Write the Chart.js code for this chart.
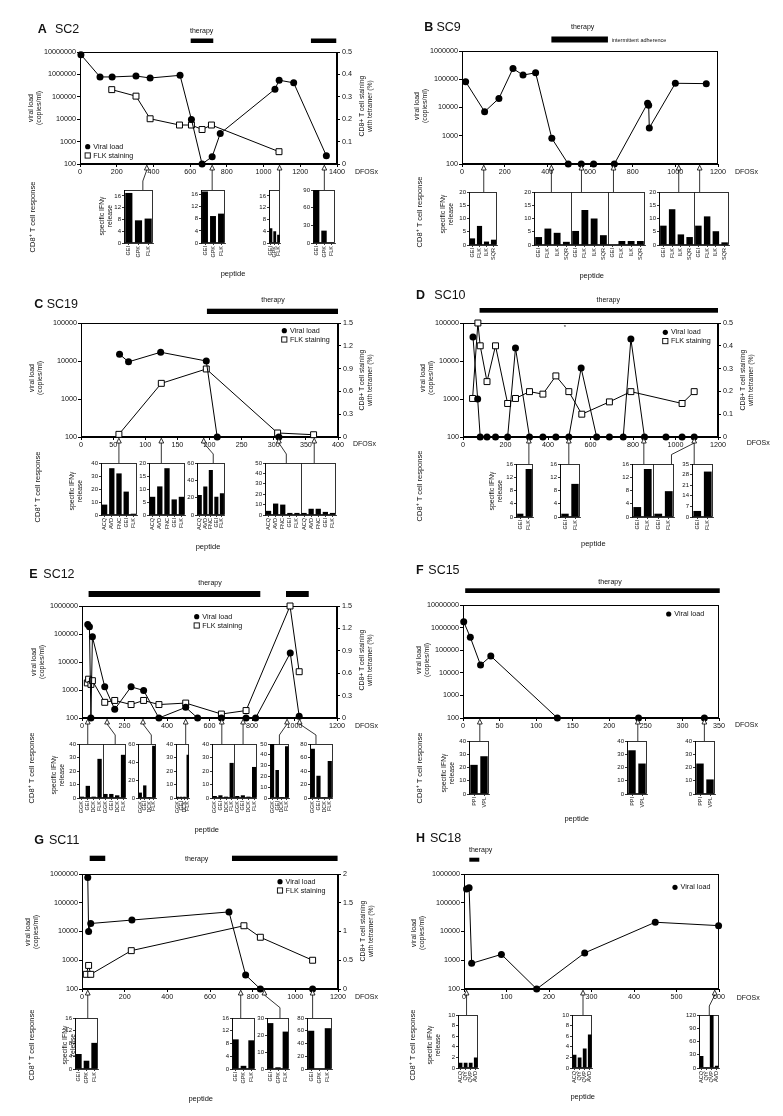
<!DOCTYPE html>
<html><head><meta charset="utf-8">
<script src="https://cdn.jsdelivr.net/npm/chart.js@4.4.0/dist/chart.umd.min.js"></script>
<style>
html,body{margin:0;padding:0;background:#fff;}
#page{position:relative;width:783px;height:1116px;overflow:hidden;background:#fff;font-family:"Liberation Sans",Arial,Helvetica,sans-serif;color:#111;}
#page canvas{position:absolute;}
.t{position:absolute;white-space:nowrap;line-height:1.12;filter:grayscale(1);-webkit-font-smoothing:antialiased;}
.t sup{font-size:0.7em;line-height:0;vertical-align:0.45em;}
</style></head><body><div id="page"></div>
<script>
// ================= DATA =================
// ---- A  SC2
const A_vlDays  = [5,109,175,305,382,545,607,665,720,764,1062,1085,1164,1342];
const A_vl      = [7.6e6,7.7e5,7.7e5,8.5e5,6.9e5,9.1e5,9.7e3,100,213,2.3e3,2.2e5,5.5e5,4.2e5,235];
const A_flkDays = [173,305,382,542,607,665,716,1084];
const A_flk     = [0.332,0.303,0.202,0.174,0.174,0.154,0.174,0.055];
const A_therapy = [[603,726],[1258,1396]];
const A_samples = [364,720,1087,1331];
const A_peptides = ['GEI','GPK','FLK'];
const A_ifn = [[17,7.7,8.3],[17,8.9,9.7],[5,4,2.8],[90,21,0.5]];
// ---- B  SC9
const B_vlDays = [17,106,173,239,286,345,421,498,559,617,714,870,875,878,1000,1145];
const B_vl     = [8.2e4,7.1e3,2.1e4,2.4e5,1.4e5,1.7e5,810,100,100,100,100,1.4e4,1.2e4,1.9e3,7.2e4,7.0e4];
const B_therapy = [[419,684]];
const B_samples = [102,419,560,710,1016,1114];
const B_peptides = ['GEI','FLK','ILK','SQR'];
const B_ifn = [[2.5,7.2,1.3,2],[3,6.2,4.6,1.2],[5.3,13.2,10,3.7],[0,1.5,1.5,1.5],[7.3,13.5,4,3],[7.3,10.8,5.2,1]];
// ---- C  SC19
const C_vlDays  = [60,74,124,195,212,308];
const C_vl      = [1.5e4,9.5e3,1.7e4,1.0e4,100,100];
const C_flkDays = [59,125,195,306,362];
const C_flk     = [0.035,0.706,0.895,0.053,0.03];
const C_therapy = [[196,400]];
const C_samples = [59,125,191,308,363];
const C_peptides = ['ACQ','AVD','FNC','GEI','FLK'];
const C_ifn = [[8,36,32,18,1],[7,11,18,6,7],[23,33,52,21,25],[4,11,10,2,2],[2,6,6,3,2]];
// ---- D  SC10
const D_vlDays  = [47,69,81,113,153,210,247,313,376,437,498,556,629,689,754,790,854,955,1031,1088];
const D_vl      = [4.3e4,1000,100,100,100,100,2.2e4,100,100,100,100,6.5e3,100,100,100,3.8e4,100,100,100,100];
const D_flkDays = [45,70,81,113,153,210,247,313,376,437,498,559,689,790,1031,1088];
const D_flk     = [0.169,0.5,0.4,0.243,0.4,0.147,0.169,0.199,0.188,0.268,0.199,0.1,0.154,0.199,0.147,0.199];
const D_therapy = [[78,1200]];
const D_samples = [310,498,851,1088];
const D_peptides = ['GEI','FLK'];
const D_ifn = [[1,14.5],[1,10],[3,14.5],[1,7.8],[4,30]];
// ---- E  SC12
const E_vlDays  = [27,35,42,49,107,154,231,290,362,488,544,656,772,817,980,1022];
const E_vl      = [2.2e5,1.8e5,100,7.9e4,1.3e3,204,1.3e3,960,100,240,100,100,100,100,2.1e4,115];
const E_flkDays = [25,31,42,49,107,154,231,290,362,488,656,772,979,1022];
const E_flk     = [0.47,0.52,0.45,0.5,0.21,0.235,0.18,0.235,0.18,0.2,0.053,0.10,1.5,0.62];
const E_therapy = [[31,839],[960,1067]];
const E_samples = [27,118,287,488,658,758,965,1024];
const E_peptides = ['GGK','GEI','DCK','FLK'];
const E_ifn = [[1,9,1,29],[3,3,2,32],[6,14,1,58],[1,1,1,32],[1.5,2,1,26],[1.5,2,1,23],[50,26,1,48],[73,33,1,55]];
// ---- F  SC15
const F_vlDays = [1,10,24,38,129,240,330];
const F_vl     = [1.8e6,3.7e5,2.2e4,5.5e4,100,100,100];
const F_therapy = [[3,351]];
const F_samples = [23,239,330];
const F_peptides = ['PPI','VPL'];
const F_ifn = [[22,28.5],[33,23],[23,11]];
// ---- G  SC11
const G_vlDays  = [27,31,41,234,689,767,836,1081];
const G_vl      = [7.6e5,1.0e4,1.9e4,2.5e4,4.8e4,307,100,100];
const G_flkDays = [20,31,41,231,759,836,1081];
const G_flk     = [0.255,0.41,0.255,0.667,1.1,0.9,0.5];
const G_therapy = [[36,109],[703,1198]];
const G_samples = [27,744,855,1081];
const G_peptides = ['GEI','GPK','FLK'];
const G_ifn = [[4.7,2.6,8.2],[9.3,1,9],[27,1,22],[60,0.5,64]];
// ---- H  SC18
const H_vlDays = [6,12,18,88,171,284,450,599];
const H_vl     = [3.0e5,3.3e5,780,1.6e3,100,1.8e3,2.1e4,1.6e4];
const H_therapy = [[12.5,36]];
const H_samples = [6,280,590];
const H_peptides = ['ACQ','QIY','QVP','AVD'];
const H_ifn = [[1,1,1,2],[2.5,2,3.7,6.3],[27,0.5,120,5]];

const PANELS = {
  A:{name:'SC2', vlDays:A_vlDays, vl:A_vl, flkDays:A_flkDays, flk:A_flk, therapy:A_therapy, samples:A_samples, peptides:A_peptides, ifn:A_ifn},
  B:{name:'SC9', vlDays:B_vlDays, vl:B_vl, therapy:B_therapy, samples:B_samples, peptides:B_peptides, ifn:B_ifn},
  C:{name:'SC19', vlDays:C_vlDays, vl:C_vl, flkDays:C_flkDays, flk:C_flk, therapy:C_therapy, samples:C_samples, peptides:C_peptides, ifn:C_ifn},
  D:{name:'SC10', vlDays:D_vlDays, vl:D_vl, flkDays:D_flkDays, flk:D_flk, therapy:D_therapy, samples:D_samples, peptides:D_peptides, ifn:D_ifn},
  E:{name:'SC12', vlDays:E_vlDays, vl:E_vl, flkDays:E_flkDays, flk:E_flk, therapy:E_therapy, samples:E_samples, peptides:E_peptides, ifn:E_ifn},
  F:{name:'SC15', vlDays:F_vlDays, vl:F_vl, therapy:F_therapy, samples:F_samples, peptides:F_peptides, ifn:F_ifn},
  G:{name:'SC11', vlDays:G_vlDays, vl:G_vl, flkDays:G_flkDays, flk:G_flk, therapy:G_therapy, samples:G_samples, peptides:G_peptides, ifn:G_ifn},
  H:{name:'SC18', vlDays:H_vlDays, vl:H_vl, therapy:H_therapy, samples:H_samples, peptides:H_peptides, ifn:H_ifn}
};

// ================= LAYOUT =================
const LAYOUT = {
 A:{plot:[80,52,337,164], xMax:1400, xStep:200, yMax:1e7, right:{max:0.5, step:0.1},
    therapyY:[38.5,43], therapyText:[201.7,30.7], title:[37.7,55,29],
    vlLabel:[35,108], rightLabel:[366,106], dfos:[355,171.5], legend:[87.7,146.7],
    cd8:[33.3,217], ifn:[106,216], peptide:[233,274],
    insets:[
      {box:[124,190,153,243], yMax:18, step:4, sets:[0], conn:[[0,0.65]]},
      {box:[201,190,225,243], yMax:17.5, step:4, sets:[1], conn:[[1,null]]},
      {box:[269,190,282,243], yMax:18, step:4, sets:[2], conn:[[2,null]]},
      {box:[313,190,335,243], yMax:90, step:30, sets:[3], conn:[[3,null]]}]},
 B:{plot:[462,51,718,164], xMax:1200, xStep:200, yMax:1e6, right:null,
    therapyY:[36.5,42.5], therapyText:[582.7,27.3], note:['intermittent adherence',611.7,39.7],
    title:[424.3,436.5,26.7], vlLabel:[421,106], dfos:[735,172], legend:null,
    cd8:[420,212], ifn:[447,214], peptide:[591.7,276],
    insets:[
      {box:[469,192,497,245], yMax:20, step:5, sets:[0], conn:[[0,null]]},
      {box:[534,192,645,245], yMax:20, step:5, sets:[1,2,3], conn:[[1,null],[2,null],[3,null]]},
      {box:[659,192,729,245], yMax:20, step:5, sets:[4,5], conn:[[4,null],[5,null]]}]},
 C:{plot:[81,323,338,437], xMax:400, xStep:50, yMax:1e5, right:{max:1.5, step:0.3},
    therapyY:[308.7,314], therapyText:[273,300], title:[34.3,46.7,304],
    vlLabel:[36,378], rightLabel:[366,380], dfos:[353,444], legend:[284.3,330.7],
    cd8:[38.3,487], ifn:[76,491], peptide:[208,546.7],
    insets:[
      {box:[101,463,137,515], yMax:40, step:10, sets:[0], conn:[[0,null]]},
      {box:[149,463,185,515], yMax:20, step:5, sets:[1], conn:[[1,null]]},
      {box:[197,463,225,515], yMax:60, step:10, sets:[2], conn:[[2,0.58]]},
      {box:[265,463,336,515], yMax:50, step:10, sets:[3,4], conn:[[3,0.3],[4,null]]}]},
 D:{plot:[463,323,718,437], xMax:1200, xStep:200, yMax:1e5, right:{max:0.5, step:0.1},
    therapyY:[308,312.7], therapyText:[608.3,300], title:[416,434.3,295],
    vlLabel:[426.7,378], rightLabel:[747,380], dfos:[746.7,442.7], legend:[665.3,332.3], star:[565,327],
    cd8:[420,486], ifn:[496,491], peptide:[593.3,544.3],
    insets:[
      {box:[516,464,533,517], yMax:16, step:4, sets:[0], conn:[[0,null]]},
      {box:[560,464,580,517], yMax:16, step:4, sets:[1], conn:[[1,null]]},
      {box:[632,464,674,517], yMax:16, step:4, sets:[2,3], conn:[[2,null],[3,0.94]]},
      {box:[692,464,713,517], yMax:35, step:7, sets:[4], conn:[[3,null]]}]},
 E:{plot:[82,606,337,718], xMax:1200, xStep:200, yMax:1e6, right:{max:1.5, step:0.3},
    therapyY:[591,597], therapyText:[210,583.3], title:[29.3,43.3,574],
    vlLabel:[38.3,662], rightLabel:[366,660], dfos:[355,725.7], legend:[196.7,616.7],
    cd8:[31.7,768], ifn:[58.3,775], peptide:[206.7,830],
    insets:[
      {box:[79,744,126,798], yMax:40, step:10, sets:[0,1], conn:[[0,null],[1,0.77]]},
      {box:[138,744,157,798], yMax:60, step:20, sets:[2], conn:[[2,0.7]]},
      {box:[176,744,191,798], yMax:40, step:10, sets:[3], conn:[[3,null]]},
      {box:[212,744,257,798], yMax:40, step:10, sets:[4,5], conn:[[4,null],[5,null]]},
      {box:[270,744,290,798], yMax:50, step:10, sets:[6], conn:[[6,0.47]]},
      {box:[310,744,333,798], yMax:80, step:20, sets:[7], conn:[[7,0.26]]}]},
 F:{plot:[463,605,719,718], xMax:350, xStep:50, yMax:1e7, right:null,
    therapyY:[588.3,593], therapyText:[610,581.7], title:[416,428.3,570],
    vlLabel:[422.5,660], dfos:[735,725], legend:[668.7,614],
    cd8:[420,768], ifn:[447.5,773], peptide:[576.7,819],
    insets:[
      {box:[469,741,489,794], yMax:40, step:10, sets:[0], conn:[[0,null]]},
      {box:[627,741,647,794], yMax:40, step:10, sets:[1], conn:[[1,null]]},
      {box:[695,741,715,794], yMax:40, step:10, sets:[2], conn:[[2,null]]}]},
 G:{plot:[82,874,338,989], xMax:1200, xStep:200, yMax:1e6, right:{max:2, step:0.5},
    therapyY:[855.7,861], therapyText:[196.7,859], title:[34.3,49,840],
    vlLabel:[31.7,932], rightLabel:[366.7,931], dfos:[355,997.3], legend:[280,881.7],
    cd8:[31.7,1045], ifn:[68.7,1045], peptide:[200.7,1099],
    insets:[
      {box:[75,1018,98,1069], yMax:16, step:4, sets:[0], conn:[[0,null]]},
      {box:[232,1018,255,1069], yMax:16, step:4, sets:[1], conn:[[1,null]]},
      {box:[267,1018,289,1069], yMax:30, step:10, sets:[2], conn:[[2,0.59]]},
      {box:[307,1018,332,1069], yMax:80, step:20, sets:[3], conn:[[3,null]]}]},
 H:{plot:[464,874,719,989], xMax:600, xStep:100, yMax:1e6, right:null,
    therapyY:[857.7,861.7], therapyText:[480.7,850], title:[416,430,838],
    vlLabel:[418,933], dfos:[736.7,998.3], legend:[675,887.3],
    cd8:[413.3,1045], ifn:[434,1045], peptide:[582.7,1096.7],
    insets:[
      {box:[458,1015,479,1068], yMax:10, step:2, sets:[0], conn:[[0,null]]},
      {box:[572,1015,593,1068], yMax:10, step:2, sets:[1], conn:[[1,null]]},
      {box:[699,1015,720,1068], yMax:120, step:30, sets:[2], conn:[[2,0.49]]}]}
};

// ================= RENDER =================
const FONT = '"Liberation Sans", Arial, Helvetica, sans-serif';
Chart.defaults.font.family = FONT;
Chart.defaults.color = '#111';
const page = document.getElementById('page');
const num = v => String(Math.round(v * 1000) / 1000);

function addCanvas(x, y, w, h) {
  const c = document.createElement('canvas');
  c.width = w; c.height = h;
  c.style.left = x + 'px'; c.style.top = y + 'px';
  c.style.width = w + 'px'; c.style.height = h + 'px';
  page.appendChild(c);
  return c;
}
function addText(html, x, y, o = {}) {
  const d = document.createElement('div');
  d.className = 't';
  d.innerHTML = html;
  d.style.fontSize = (o.size || 7.2) + 'px';
  if (o.bold) d.style.fontWeight = 'bold';
  if (o.center) d.style.textAlign = 'center';
  d.style.left = x + 'px'; d.style.top = y + 'px';
  const ax = o.align === 'left' ? '0' : (o.align === 'right' ? '-100%' : '-50%');
  d.style.transform = `translate(${ax},-50%)` + (o.rot ? ` rotate(${o.rot}deg)` : '');
  page.appendChild(d);
  return d;
}

const framePlugin = {
  id: 'frame',
  beforeDatasetsDraw(chart, args, opts) {
    const a = chart.chartArea, ctx = chart.ctx;
    const l = Math.round(a.left) + 0.5, r = Math.round(a.right) - 0.5;
    const t = Math.round(a.top) + 0.5, b = Math.round(a.bottom) - 0.5;
    ctx.save();
    ctx.strokeStyle = '#000';
    ctx.lineWidth = opts.lw || 1;
    ctx.strokeRect(l, t, r - l, b - t);
    (opts.seps || []).forEach(k => {
      const xs = chart.scales.x;
      const x = Math.round((xs.getPixelForTick(k - 1) + xs.getPixelForTick(k)) / 2) + 0.5;
      ctx.beginPath(); ctx.moveTo(x, t); ctx.lineTo(x, b); ctx.stroke();
    });
    ctx.restore();
  }
};

function axisGrid(tl, lw) {
  return {display:true, drawOnChartArea:false, drawTicks:true, tickLength:tl, color:'#000', lineWidth:lw};
}

const charts = {};
function mainChart(key) {
  const d = PANELS[key], l = LAYOUT[key];
  const [x0, y0, x1, y1] = l.plot.map(Math.round);
  const L = 50, T = 8, B = 16;
  const R = l.right ? 45 : 0, PR = l.right ? 0 : 18;
  const w = x1 - x0, h = y1 - y0;
  const cv = addCanvas(x0 - L, y0 - T, w + L + R + PR, h + T + B);
  const decades = [];
  for (let v = 100; v <= l.yMax * 1.0001; v *= 10) decades.push(v);
  const tickFont = {size:7.2, family:FONT};
  const ds = [{
    label:'Viral load', yAxisID:'y',
    data: d.vlDays.map((x, i) => ({x, y:d.vl[i]})),
    borderColor:'#000', borderWidth:1, backgroundColor:'#000',
    pointRadius:3.5, pointBackgroundColor:'#000', pointBorderColor:'#000', pointBorderWidth:0,
    tension:0, clip:false
  }];
  if (d.flk) ds.push({
    label:'FLK staining', yAxisID:'y2',
    data: d.flkDays.map((x, i) => ({x, y:d.flk[i]})),
    borderColor:'#000', borderWidth:1, backgroundColor:'#fff',
    pointStyle:'rect', pointRadius:4.2, pointBackgroundColor:'#fff', pointBorderColor:'#000', pointBorderWidth:1,
    tension:0, clip:false
  });
  const scales = {
    x:{type:'linear', min:0, max:l.xMax, position:'bottom',
       ticks:{stepSize:l.xStep, font:tickFont, color:'#111', maxRotation:0, autoSkip:false, padding:1, callback:num},
       grid:axisGrid(3, 1), border:{display:true, color:'#000', width:1},
       afterFit:s => { s.height = B; }},
    y:{type:'logarithmic', min:100, max:l.yMax, position:'left',
       afterBuildTicks:s => { s.ticks = decades.map(v => ({value:v})); },
       ticks:{font:tickFont, color:'#111', padding:1, callback:v => String(v)},
       grid:axisGrid(3, 1), border:{display:true, color:'#000', width:1},
       afterFit:s => { s.width = L; }}
  };
  if (l.right) scales.y2 = {type:'linear', min:0, max:l.right.max, position:'right',
       ticks:{stepSize:l.right.step, font:tickFont, color:'#111', padding:2, callback:num},
       grid:axisGrid(3, 1), border:{display:true, color:'#000', width:1},
       afterFit:s => { s.width = R; }};
  charts[key] = new Chart(cv, {
    type:'line',
    data:{datasets:ds},
    options:{responsive:false, animation:false, devicePixelRatio:1, events:[],
      layout:{padding:{top:T, right:PR, left:0, bottom:0}},
      plugins:{legend:{display:false}, tooltip:{enabled:false}, frame:{lw:1}},
      scales},
    plugins:[framePlugin]
  });
  return {x0, y0, x1, y1, cv};
}

function insetChart(key, ins) {
  const d = PANELS[key];
  const [x0, y0, x1, y1] = ins.box.map(Math.round);
  const L = 16, T = 5, B = 24, PR = 5;
  const w = x1 - x0, h = y1 - y0;
  const cv = addCanvas(x0 - L, y0 - T, w + L + PR, h + T + B);
  const labels = [], vals = [];
  ins.sets.forEach(si => d.peptides.forEach((p, j) => { labels.push(p); vals.push(d.ifn[si][j]); }));
  const n = d.peptides.length;
  const seps = ins.sets.slice(1).map((_, g) => (g + 1) * n);
  return new Chart(cv, {
    type:'bar',
    data:{labels, datasets:[{data:vals, backgroundColor:'#000', borderWidth:0, barPercentage:0.74, categoryPercentage:1}]},
    options:{responsive:false, animation:false, devicePixelRatio:1, events:[],
      layout:{padding:{top:T, right:PR, left:0, bottom:0}},
      plugins:{legend:{display:false}, tooltip:{enabled:false}, frame:{seps, lw:0.8}},
      scales:{
        x:{type:'category', ticks:{font:{size:5.5, family:FONT}, color:'#111', maxRotation:90, minRotation:90, autoSkip:false, padding:1},
           grid:Object.assign(axisGrid(2, 0.8), {offset:false}), border:{display:true, color:'#000', width:0.8},
           afterFit:s => { s.height = B; }},
        y:{min:0, max:ins.yMax, ticks:{stepSize:ins.step, includeBounds:false, font:{size:6, family:FONT}, color:'#111', padding:1, callback:num},
           grid:axisGrid(2, 0.8), border:{display:true, color:'#000', width:0.8},
           afterFit:s => { s.width = L; }}
      }},
    plugins:[framePlugin]
  });
}

const geo = {};
Object.keys(PANELS).forEach(k => {
  geo[k] = mainChart(k);
  LAYOUT[k].insets.forEach(ins => insetChart(k, ins));
});

// ----- texts
Object.keys(PANELS).forEach(k => {
  const d = PANELS[k], l = LAYOUT[k];
  addText(`<b>${k}</b>`, l.title[0], l.title[2], {size:12.5, align:'left'});
  addText(d.name, l.title[1], l.title[2], {size:12.5, align:'left'});
  addText('viral load<br>(copies/ml)', l.vlLabel[0], l.vlLabel[1], {size:7, rot:-90, center:true});
  if (l.rightLabel) addText('CD8+ T cell staining<br>with tetramer (%)', l.rightLabel[0], l.rightLabel[1], {size:6.8, rot:-90, center:true});
  addText('DFOSx', l.dfos[0], l.dfos[1], {size:7, align:'left'});
  addText('therapy', l.therapyText[0], l.therapyText[1], {size:7});
  if (l.note) addText(l.note[0], l.note[1], l.note[2], {size:5.5, align:'left'});
  if (l.star) addText('*', l.star[0], l.star[1], {size:6});
  if (l.legend) {
    addText('Viral load', l.legend[0] + 5.6, l.legend[1], {size:7.2, align:'left'});
    if (d.flk) addText('FLK staining', l.legend[0] + 5.6, l.legend[1] + 8.8, {size:7.2, align:'left'});
  }
  addText('CD8<sup>+</sup> T cell response', l.cd8[0], l.cd8[1], {size:7.5, rot:-90});
  addText('specific IFNγ<br>release', l.ifn[0], l.ifn[1], {size:6.8, rot:-90, center:true});
  addText('peptide', l.peptide[0], l.peptide[1], {size:7.5});
});

// ----- overlay: therapy bars, sample markers, connectors, legend symbols
const ov = addCanvas(0, 0, 783, 1116);
ov.style.pointerEvents = 'none';
const g = ov.getContext('2d');
Object.keys(PANELS).forEach(k => {
  const d = PANELS[k], l = LAYOUT[k], ch = charts[k], gm = geo[k];
  const offX = parseFloat(gm.cv.style.left), offY = parseFloat(gm.cv.style.top);
  const px = v => offX + ch.scales.x.getPixelForValue(v);
  const yb = offY + ch.chartArea.bottom;
  g.fillStyle = '#000';
  d.therapy.forEach(([a, b]) => {
    g.fillRect(px(a), l.therapyY[0], px(b) - px(a), l.therapyY[1] - l.therapyY[0]);
  });
  g.strokeStyle = '#000'; g.lineWidth = 0.8;
  const triB = yb + 6;
  l.insets.forEach(ins => {
    const [x0, y0, x1] = ins.box.map(Math.round);
    ins.conn.forEach(([si, fx]) => {
      const tx = px(d.samples[si]);
      g.beginPath();
      g.moveTo(tx, triB);
      if (fx === null) {
        g.lineTo(tx, y0);
      } else {
        const ix = x0 + fx * (x1 - x0);
        const bend = Math.min(14, (y0 - triB) * 0.55);
        g.lineTo(ix, triB + bend);
        g.lineTo(ix, y0);
      }
      g.stroke();
    });
  });
  d.samples.forEach(s => {
    const tx = px(s);
    g.beginPath();
    g.moveTo(tx, yb + 1.2);
    g.lineTo(tx + 2.4, triB);
    g.lineTo(tx - 2.4, triB);
    g.closePath();
    g.fillStyle = '#fff'; g.fill();
    g.lineWidth = 0.8; g.stroke();
  });
  if (l.legend) {
    g.fillStyle = '#000';
    g.beginPath(); g.arc(l.legend[0], l.legend[1], 2.6, 0, Math.PI * 2); g.fill();
    if (d.flk) {
      g.fillStyle = '#fff'; g.lineWidth = 0.9;
      g.fillRect(l.legend[0] - 2.6, l.legend[1] + 8.8 - 2.6, 5.2, 5.2);
      g.strokeRect(l.legend[0] - 2.6, l.legend[1] + 8.8 - 2.6, 5.2, 5.2);
    }
  }
});
</script></body></html>
